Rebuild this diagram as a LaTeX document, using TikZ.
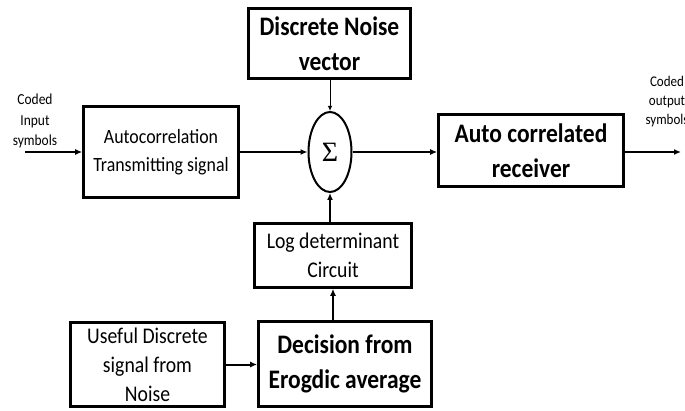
\documentclass[tikz,border=0pt]{standalone}
\usepackage{fontspec}
\setmainfont{Carlito}
% narrow, tall cut of the face for the block labels
\newfontfamily\tallfont[FakeStretch=0.88]{Carlito}
% serif face for the summing symbol
\newfontfamily\sumfont{Liberation Serif}
\usetikzlibrary{arrows.meta,shapes.geometric}

\tikzset{
  x=1pt, y=-1pt,
  block/.style={draw, line width=2.6pt, align=center, inner sep=0pt},
  bigtext/.style={font=\tallfont\bfseries\fontsize{26.7}{35}\selectfont},
  midtext/.style={font=\tallfont\fontsize{22.4}{29}\selectfont},
  sidetext/.style={font=\tallfont\fontsize{15.3}{20.5}\selectfont, align=center, inner sep=0pt},
  link/.style={line width=2pt, -{Latex[length=7pt,width=6pt]}},
  thinlink/.style={line width=1pt, -{Latex[length=5pt,width=4.5pt]}}
}

\begin{document}
\begin{tikzpicture}
  \useasboundingbox (0,0) rectangle (685,411);

  % blocks
  \node[block, bigtext, minimum width=162pt, minimum height=70pt] (noise) at (329.5,43.5)
    {Discrete Noise\\vector};
  \node[block, font=\tallfont\fontsize{20.3}{28}\selectfont, minimum width=155pt, minimum height=91pt] (tx) at (161,152)
    {Autocorrelation\\Transmitting signal};
  \node[draw, ellipse, line width=2pt, minimum width=43pt, minimum height=80pt, inner sep=0pt,
        font=\sumfont\fontsize{28}{28}\selectfont] (sum) at (330,152)
    {Σ};
  \node[block, bigtext, minimum width=185pt, minimum height=72pt] (rx) at (531,150.5)
    {Auto correlated\\receiver};
  \node[block, midtext, minimum width=157pt, minimum height=64pt] (logdet) at (333,255.5)
    {Log determinant\\Circuit};
  \node[block, midtext, minimum width=154pt, minimum height=84pt] (useful) at (147.5,364.5)
    {Useful Discrete\\signal  from\\Noise};
  \node[block, bigtext, minimum width=173pt, minimum height=85pt] (decide) at (345,364)
    {Decision from\\Erogdic average};

  % side labels
  \node[sidetext] (inlbl) at (35,121) {Coded\\Input\\symbols};
  \node[sidetext, font=\tallfont\fontsize{14.8}{19}\selectfont] (outlbl) at (667,102) {Coded\\output\\symbols};

  \coordinate (inpt) at (25,152);
  \coordinate (outpt) at (681,152);

  % connectors
  \draw[link] (inpt) -- (tx.west |- inpt);
  \draw[link] (tx.east |- sum) -- (sum.west);
  \draw[link] (sum.east) -- (rx.west |- sum);
  \draw[link] (rx.east |- outpt) -- (outpt);
  \draw[thinlink] (noise.south -| sum) -- (sum.north);
  \draw[link] (logdet.north -| sum) -- (sum.south);
  \draw[link] (decide.north -| logdet) -- (logdet.south);
  \draw[link] (useful.east) -- (decide.west |- useful.east);
\end{tikzpicture}
\end{document}
